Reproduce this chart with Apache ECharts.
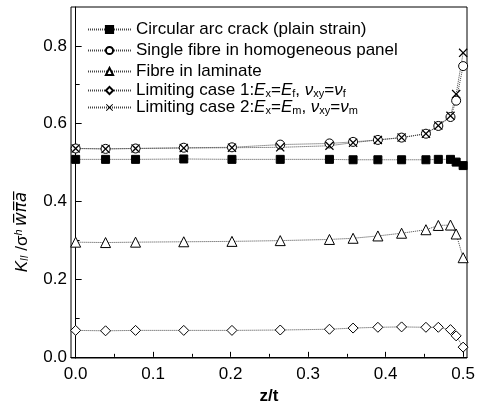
<!DOCTYPE html>
<html>
<head>
<meta charset="utf-8">
<script src="https://cdn.jsdelivr.net/npm/echarts@6/dist/echarts.min.js"></script>
<style>
  html, body { margin: 0; padding: 0; background: #fff; }
  #chart { width: 481px; height: 410px; }
</style>
</head>
<body>
<div id="chart"></div>
<script>
// z/t positions of the computed points
var zPos = [0, 0.0386, 0.0773, 0.1395, 0.2017, 0.264, 0.3275, 0.358, 0.390, 0.4206, 0.452, 0.468, 0.4837, 0.491, 0.500];

var arcCrack   = [0.508, 0.508, 0.508, 0.509, 0.508, 0.508, 0.508, 0.507, 0.507, 0.507, 0.507, 0.508, 0.508, 0.501, 0.492];
var singleFib  = [0.536, 0.535, 0.536, 0.538, 0.539, 0.546, 0.549, 0.553, 0.558, 0.564, 0.574, 0.594, 0.617, 0.659, 0.748];
var laminate   = [0.295, 0.294, 0.295, 0.296, 0.297, 0.299, 0.302, 0.305, 0.311, 0.318, 0.327, 0.338, 0.339, 0.316, 0.255];
var limCase1   = [0.068, 0.067, 0.068, 0.068, 0.068, 0.069, 0.071, 0.074, 0.076, 0.077, 0.076, 0.076, 0.070, 0.054, 0.025];
var limCase2   = [0.536, 0.535, 0.536, 0.537, 0.538, 0.539, 0.543, 0.551, 0.558, 0.564, 0.574, 0.595, 0.620, 0.676, 0.782];

var xTicks = [0, 0.1, 0.2, 0.3, 0.4, 0.5];
var xMinor = [0.05, 0.15, 0.25, 0.35, 0.45];
var yTicks = [0, 0.2, 0.4, 0.6, 0.8];
var yMinor = [0.1, 0.3, 0.5, 0.7];

var FONT = "'Liberation Sans', Arial, sans-serif";
var crossPath = 'path://M0,1L1,0L5,4L9,0L10,1L6,5L10,9L9,10L5,6L1,10L0,9L4,5Z';

function pairs(vals) {
  return zPos.map(function (z, i) { return [z, vals[i]]; });
}

function mkSeries(name, vals, symbol, size, fill) {
  return {
    name: name,
    type: 'line',
    data: pairs(vals),
    symbol: symbol,
    symbolSize: size,
    showAllSymbol: true,
    lineStyle: { color: '#444', width: 1, type: [1, 1] },
    itemStyle: { color: fill, borderColor: '#000', borderWidth: 1 },
    emphasis: { disabled: true },
    animation: false
  };
}

var legendText = {
  'Circular arc crack (plain strain)': '{p|Circular arc crack (plain strain)}',
  'Single fibre in homogeneous panel': '{p|Single fibre in homogeneous panel}',
  'Fibre in laminate': '{p|Fibre in laminate}',
  'Limiting case 1': '{t|Limiting case 1:}{i|E}{s|x}{t|=}{i|E}{s|f}{t|, }{i|ν}{s|xy}{t|=}{i|ν}{s|f}',
  'Limiting case 2': '{t|Limiting case 2:}{i|E}{s|x}{t|=}{i|E}{s|m}{t|, }{i|ν}{s|xy}{t|=}{i|ν}{s|m}{t| }'
};

var chart = echarts.init(document.getElementById('chart'));
chart.setOption({
  backgroundColor: '#fff',
  animation: false,
  textStyle: { fontFamily: FONT },
  grid: {
    left: 71, right: 14, top: 7, bottom: 46,
    show: true, borderColor: '#000', borderWidth: 1
  },
  legend: {
    orient: 'vertical',
    left: 82, top: 14,
    itemWidth: 43, itemHeight: 9, itemGap: 0,
    selectedMode: false,
    formatter: function (n) { return legendText[n]; },
    textStyle: {
      fontSize: 17, color: '#000', fontFamily: FONT, lineHeight: 21,
      rich: {
        p: { fontSize: 17, color: '#000', fontFamily: FONT, lineHeight: 21 },
        t: { fontSize: 17, color: '#000', fontFamily: FONT, lineHeight: 17, verticalAlign: 'middle' },
        i: { fontSize: 17, fontStyle: 'italic', color: '#000', fontFamily: FONT, lineHeight: 17, verticalAlign: 'middle' },
        s: { fontSize: 11, color: '#000', fontFamily: FONT, lineHeight: 9, verticalAlign: 'bottom' }
      }
    }
  },
  xAxis: [{
    type: 'value', min: -0.006, max: 0.505,
    name: 'z/t', nameLocation: 'middle', nameGap: 30,
    nameTextStyle: { fontSize: 17, fontWeight: 'bold', color: '#000', fontFamily: FONT },
    axisLine: { lineStyle: { color: '#000', width: 1 } },
    axisTick: { inside: true, length: 5, customValues: xTicks, lineStyle: { color: '#000' } },
    axisLabel: { customValues: xTicks, fontSize: 17, color: '#000', margin: 8,
      formatter: function (v) { return v.toFixed(1); } },
    splitLine: { show: false }
  }, {
    type: 'value', min: -0.006, max: 0.505, position: 'bottom',
    axisLine: { show: false },
    axisTick: { inside: true, length: 3, customValues: xMinor, lineStyle: { color: '#000' } },
    axisLabel: { show: false },
    splitLine: { show: false }
  }],
  yAxis: [{
    type: 'value', min: -0.003, max: 0.9,
    axisLine: { show: true, lineStyle: { color: '#000', width: 1 } },
    axisTick: { show: true, inside: true, length: 6, customValues: yTicks, lineStyle: { color: '#000' } },
    axisLabel: { customValues: yTicks, fontSize: 17, color: '#000', margin: 4,
      formatter: function (v) { return v.toFixed(1); } },
    splitLine: { show: false }
  }, {
    type: 'value', min: -0.003, max: 0.9, position: 'left',
    axisLine: { show: false },
    axisTick: { show: true, inside: true, length: 4, customValues: yMinor, lineStyle: { color: '#000' } },
    axisLabel: { show: false },
    splitLine: { show: false }
  }],
  graphic: [{
    type: 'text',
    x: 22, y: 232,
    rotation: Math.PI / 2,
    style: {
      text: '{k|K}{s|II}{n| /σ}{h|h}{o|w\u0305π\u0305a\u0305}',
      align: 'center', verticalAlign: 'middle',
      fill: '#000',
      rich: {
        k: { fontSize: 17, fontStyle: 'italic', fontFamily: FONT, lineHeight: 17, verticalAlign: 'middle' },
        s: { fontSize: 10, fontStyle: 'italic', fontFamily: FONT, lineHeight: 9, verticalAlign: 'bottom' },
        n: { fontSize: 17, fontFamily: FONT, lineHeight: 17, verticalAlign: 'middle' },
        h: { fontSize: 11, fontStyle: 'italic', fontFamily: FONT, lineHeight: 9, verticalAlign: 'top' },
        o: { fontSize: 17, fontStyle: 'italic', fontFamily: "'DejaVu Sans', " + FONT, lineHeight: 17, verticalAlign: 'middle', padding: [0, 0, 0, 3] }
      },
      lineHeight: 23
    }
  }],
  series: [
    mkSeries('Circular arc crack (plain strain)', arcCrack, 'rect', 8, '#000'),
    mkSeries('Single fibre in homogeneous panel', singleFib, 'circle', 9, '#fff'),
    mkSeries('Fibre in laminate', laminate, 'triangle', 10, '#fff'),
    mkSeries('Limiting case 1', limCase1, 'diamond', 10, '#fff'),
    (function () {
      var s = mkSeries('Limiting case 2', limCase2, crossPath, 9, '#000');
      s.itemStyle = { color: '#000', borderWidth: 0 };
      return s;
    })()
  ]
});
</script>
</body>
</html>
